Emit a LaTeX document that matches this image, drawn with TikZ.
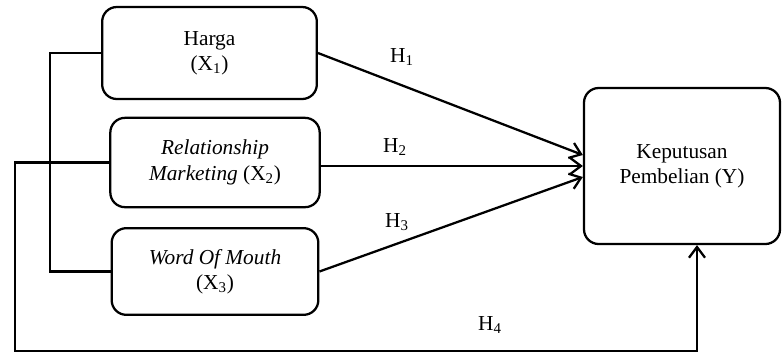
\documentclass[tikz,border=0pt]{standalone}
\usepackage{fontspec}
\setmainfont{Liberation Serif}
\usepackage{tikz}
\usetikzlibrary{arrows.meta}

\begin{document}
\begin{tikzpicture}[x=0.75pt, y=-0.75pt,
  varbox/.style={draw, line width=1.7pt, rounded corners=11pt, align=center, inner sep=0pt, font=\fontsize{16}{19}\selectfont},
  link/.style={line width=1.7pt},
  path arrow/.style={link, -{Straight Barb[length=8pt,width=12pt,line width=1.7pt]}},
  hlabel/.style={font=\fontsize{16}{19}\selectfont, inner sep=0pt}]
\useasboundingbox (0,0) rectangle (783,355);
\node[varbox, minimum width=161pt, minimum height=69pt] (harga) at (209.5,53) {Harga\\(X\textsubscript{1})};
\node[varbox, minimum width=157pt, minimum height=67pt] (rm) at (215,162.5) {\textit{Relationship}\\\textit{Marketing} (X\textsubscript{2})};
\node[varbox, minimum width=155pt, minimum height=65pt] (wom) at (215,271.5) {\textit{Word Of Mouth}\\(X\textsubscript{3})};
\node[varbox, minimum width=147pt, minimum height=117pt] (kep) at (682,166) {Keputusan\\Pembelian (Y)};
\coordinate (jx) at (50,0);
\coordinate (c4a) at (15,351);
\coordinate (c4b) at (697,351);
\draw[link] (harga.west) -- (harga.west -| jx) |- (wom.west);
\draw[path arrow] (harga.east) -- ([yshift=8.25pt]kep.west);
\draw[path arrow] (kep.west -| rm.east) -- (kep.west);
\draw[path arrow] (wom.east) -- ([yshift=-8.25pt]kep.west);
\draw[path arrow] (rm.west) -| (c4a) -- (c4b) -- (c4b |- kep.south);
\path node[hlabel] (h1) at (402,57) {H\textsubscript{1}};
\path node[hlabel] (h2) at (395,147) {H\textsubscript{2}};
\path node[hlabel] (h3) at (397,222) {H\textsubscript{3}};
\path node[hlabel] (h4) at (490,325) {H\textsubscript{4}};
\end{tikzpicture}
\end{document}
